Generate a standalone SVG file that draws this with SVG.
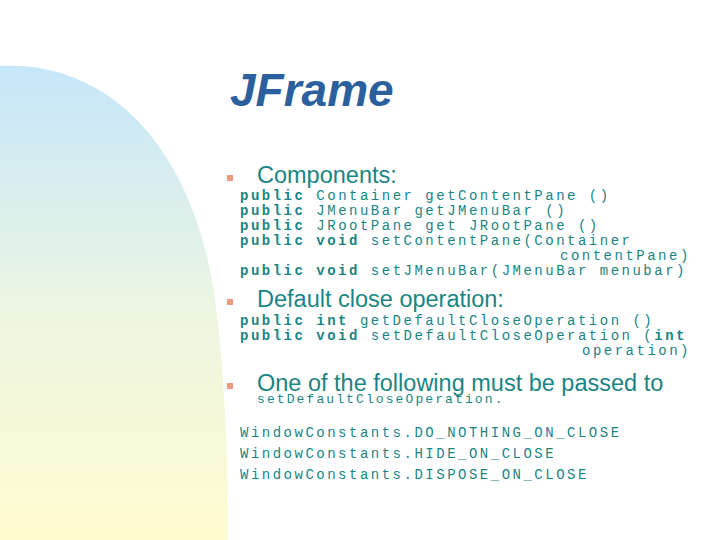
<svg xmlns="http://www.w3.org/2000/svg" width="720" height="540" viewBox="0 0 720 540">
<defs>
<linearGradient id="bg" x1="0" y1="0" x2="0" y2="1">
<stop offset="0" stop-color="#c6e6fa"/>
<stop offset="0.55" stop-color="#eef6e0"/>
<stop offset="1" stop-color="#fffbd0"/>
</linearGradient>
<style>
.m{font-family:"Liberation Mono",monospace;font-size:14px;letter-spacing:2.5px;fill:#1a8585;white-space:pre}
.b{font-weight:bold}
.s{font-family:"Liberation Sans",Arial,sans-serif;font-size:23.5px;fill:#1a8585}
.bul{fill:#ee9a7c}
</style>
</defs>
<rect width="720" height="540" fill="#fff"/>
<path d="M0,66 C110,60 195,150 215,300 C226,380 228,470 228,540 L0,540 Z" fill="url(#bg)"/>
<text x="230" y="106" font-family="Liberation Sans,Arial,sans-serif" font-size="46" font-weight="bold" font-style="italic" fill="#2b5f9e">JFrame</text>
<g id="sec1">
<rect class="bul" x="227" y="175" width="6" height="6"/>
<text class="s" x="257" y="183">Components:</text>
<text class="m" x="240" y="200"><tspan class="b">public</tspan> Container getContentPane ()</text>
<text class="m" x="240" y="215"><tspan class="b">public</tspan> JMenuBar getJMenuBar ()</text>
<text class="m" x="240" y="230"><tspan class="b">public</tspan> JRootPane get JRootPane ()</text>
<text class="m" x="240" y="245"><tspan class="b">public void</tspan> setContentPane(Container</text>
<text class="m" x="560" y="260">contentPane)</text>
<text class="m" x="240" y="275"><tspan class="b">public void</tspan> setJMenuBar(JMenuBar menubar)</text>
</g>
<g id="sec2">
<rect class="bul" x="227" y="299" width="6" height="6"/>
<text class="s" x="257" y="307">Default close operation:</text>
<text class="m" x="240" y="325"><tspan class="b">public int</tspan> getDefaultCloseOperation ()</text>
<text class="m" x="240" y="340"><tspan class="b">public void</tspan> setDefaultCloseOperation (<tspan class="b">int</tspan></text>
<text class="m" x="582" y="355">operation)</text>
</g>
<g id="sec3">
<rect class="bul" x="227" y="383" width="6" height="6"/>
<text class="s" x="257" y="391">One of the following must be passed to</text>
<text class="m" x="257" y="403" style="font-size:13px;letter-spacing:2.1px">setDefaultCloseOperation.</text>
<text class="m" x="240" y="437">WindowConstants.DO_NOTHING_ON_CLOSE</text>
<text class="m" x="240" y="458">WindowConstants.HIDE_ON_CLOSE</text>
<text class="m" x="240" y="479">WindowConstants.DISPOSE_ON_CLOSE</text>
</g>
</svg>
